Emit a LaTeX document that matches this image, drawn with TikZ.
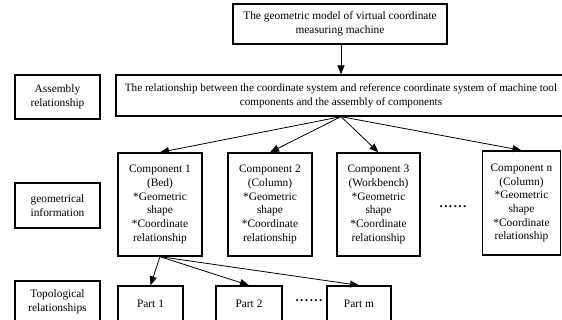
\documentclass[tikz,border=0pt]{standalone}
\usepackage{fontspec}
\setmainfont{Liberation Serif}
\newfontfamily\figfont{Liberation Serif}
\usetikzlibrary{arrows.meta}
\begin{document}
\begin{tikzpicture}[x=1pt,y=-1pt,
  box/.style={draw, line width=1.3pt, inner sep=0pt, align=center,
    font=\figfont\fontsize{11.4}{13.7}\selectfont},
  conn/.style={line width=0.8pt, -{Triangle[length=9pt,width=7pt]}},
  dotsnode/.style={inner sep=0pt, font=\figfont\fontsize{13}{13.7}\selectfont\bfseries}]
\useasboundingbox (0,0) rectangle (562,320);
\clip (0,0) rectangle (562,320);
% top and assembly row
\node[box, minimum width=214pt, minimum height=40pt] (top) at (340,24)
  {The geometric model of virtual coordinate\\measuring machine};
\node[box, minimum width=450pt, minimum height=41pt, font=\figfont\fontsize{11.15}{13.7}\selectfont] (main) at (341,95.5)
  {The relationship between the coordinate system and reference coordinate system of machine tool\\components and the assembly of components};
\node[box, minimum width=85pt, minimum height=44pt] (asm) at (57.5,97)
  {Assembly\\relationship};
% components row
\node[box, minimum width=85pt, minimum height=45pt] (geo) at (57.5,205.5)
  {geometrical\\information};
\node[box, minimum width=84pt, minimum height=103pt] (c1) at (160,204.5)
  {Component 1\\(Bed)\\*Geometric\\shape\\*Coordinate\\relationship};
\node[box, minimum width=84pt, minimum height=103pt] (c2) at (270,204.5)
  {Component 2\\(Column)\\*Geometric\\shape\\*Coordinate\\relationship};
\node[box, minimum width=83pt, minimum height=103pt] (c3) at (378.5,204.5)
  {Component 3\\(Workbench)\\*Geometric\\shape\\*Coordinate\\relationship};
\node[dotsnode] (d1) at (453,207) {.\kern1.5pt.\kern1.5pt.\kern1.5pt.\kern1.5pt.\kern1.5pt.};
\node[box, minimum width=78pt, minimum height=104pt] (cn) at (521.5,203)
  {Component n\\(Column)\\*Geometric\\shape\\*Coordinate\\relationship};
% parts row
\node[box, minimum width=85pt, minimum height=42pt] (topo) at (57.5,302)
  {Topological\\relationships};
\node[box, minimum width=65pt, minimum height=36pt] (p1) at (150.5,304) {Part 1};
\node[box, minimum width=66pt, minimum height=36pt] (p2) at (249,304) {Part 2};
\node[dotsnode] (d2) at (309,301) {.\kern1.5pt.\kern1.5pt.\kern1.5pt.\kern1.5pt.\kern1.5pt.};
\node[box, minimum width=64pt, minimum height=36pt] (pm) at (359,304) {Part m};
% connectors
\draw[conn] (top.south -| main.north) -- (main.north);
\draw[conn] (main.south) -- (c1.north);
\draw[conn] (main.south) -- (c2.north);
\draw[conn] (main.south) -- (c3.north);
\draw[conn] (main.south) -- (cn.north);
\draw[conn] (c1.south) -- (p1.north);
\draw[conn] (c1.south) -- (p2.north);
\draw[conn] (c1.south) -- (pm.north);
\end{tikzpicture}
\end{document}
